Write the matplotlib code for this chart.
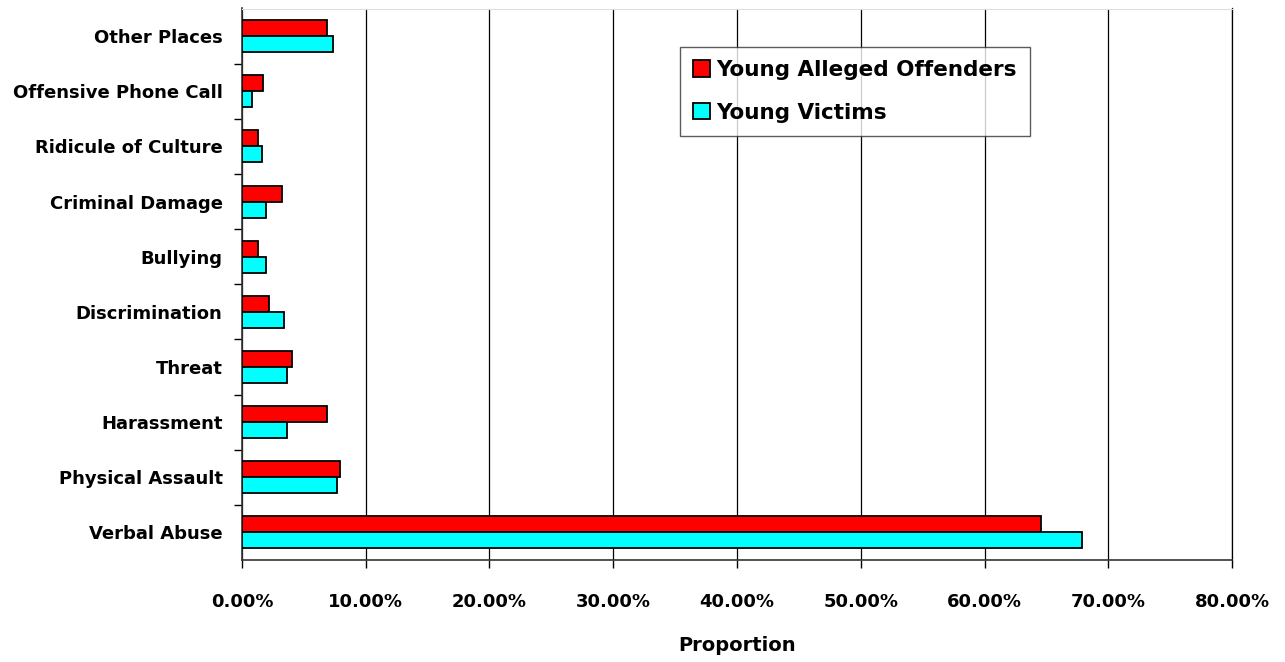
import numpy as np
import matplotlib.pyplot as plt
from matplotlib.ticker import FuncFormatter, FixedLocator

categories = ["Verbal Abuse", "Physical Assault", "Harassment", "Threat", "Discrimination",
              "Bullying", "Criminal Damage", "Ridicule of Culture", "Offensive Phone Call",
              "Other Places"]
offenders = [64.6, 7.9, 6.85, 4.05, 2.15, 1.3, 3.2, 1.3, 1.7, 6.9]
victims = [67.9, 7.7, 3.6, 3.6, 3.4, 1.95, 1.95, 1.65, 0.8, 7.35]
xticks = [0, 10, 20, 30, 40, 50, 60, 70, 80]

plt.rcParams['font.family'] = ['DejaVu Sans']
plt.rcParams['font.weight'] = 'bold'

fig = plt.figure(figsize=(12.85, 6.62), dpi=100)
ax = fig.add_axes([0.1883, 1 - 560 / 662, 0.7705, 551.5 / 662])

y = np.arange(len(categories))
h = 0.29
ax.barh(y + h / 2, offenders, height=h, color='#ff0000', edgecolor='black', linewidth=1.3,
        label='Young Alleged Offenders', zorder=3)
ax.barh(y - h / 2, victims, height=h, color='#00ffff', edgecolor='black', linewidth=1.3,
        label='Young Victims', zorder=3)

ax.set_xlim(0, 80)
ax.set_ylim(-0.5, 9.5)
ax.set_xticks(xticks)
ax.xaxis.set_major_formatter(FuncFormatter(lambda v, p: f"{v:.2f}%"))
ax.grid(axis='x', color='black', linewidth=0.9, zorder=0)

ax.set_yticks(y)
ax.set_yticklabels(categories, fontsize=13, fontweight='bold')
ax.tick_params(axis='y', length=0, pad=14)
ax.yaxis.set_minor_locator(FixedLocator(np.arange(0.5, 9.5, 1.0)))
ax.tick_params(axis='y', which='minor', length=6, width=1, direction='out')
ax.tick_params(axis='x', length=6, width=1, direction='out', pad=18, labelsize=13)
for lbl in ax.get_xticklabels():
    lbl.set_fontweight('bold')

ax.set_xlabel('Proportion', fontsize=14, fontweight='bold', labelpad=18)

ax.spines['top'].set_color('#dddddd')
ax.spines['right'].set_color('black')
ax.spines['right'].set_linewidth(0.9)
for s in ['left', 'bottom']:
    ax.spines[s].set_color('#333333')
    ax.spines[s].set_linewidth(1.2)

leg = ax.legend(loc='upper left', bbox_to_anchor=(0.4424, 0.930), fontsize=15.5,
                frameon=True, fancybox=False, edgecolor='#333333', handlelength=0.8,
                handleheight=0.8, handletextpad=0.3, borderpad=0.6, labelspacing=1.05,
                borderaxespad=0)
leg.get_frame().set_linewidth(1.0)
for t in leg.get_texts():
    t.set_fontweight('bold')

fig.savefig('out.png', dpi=100)
